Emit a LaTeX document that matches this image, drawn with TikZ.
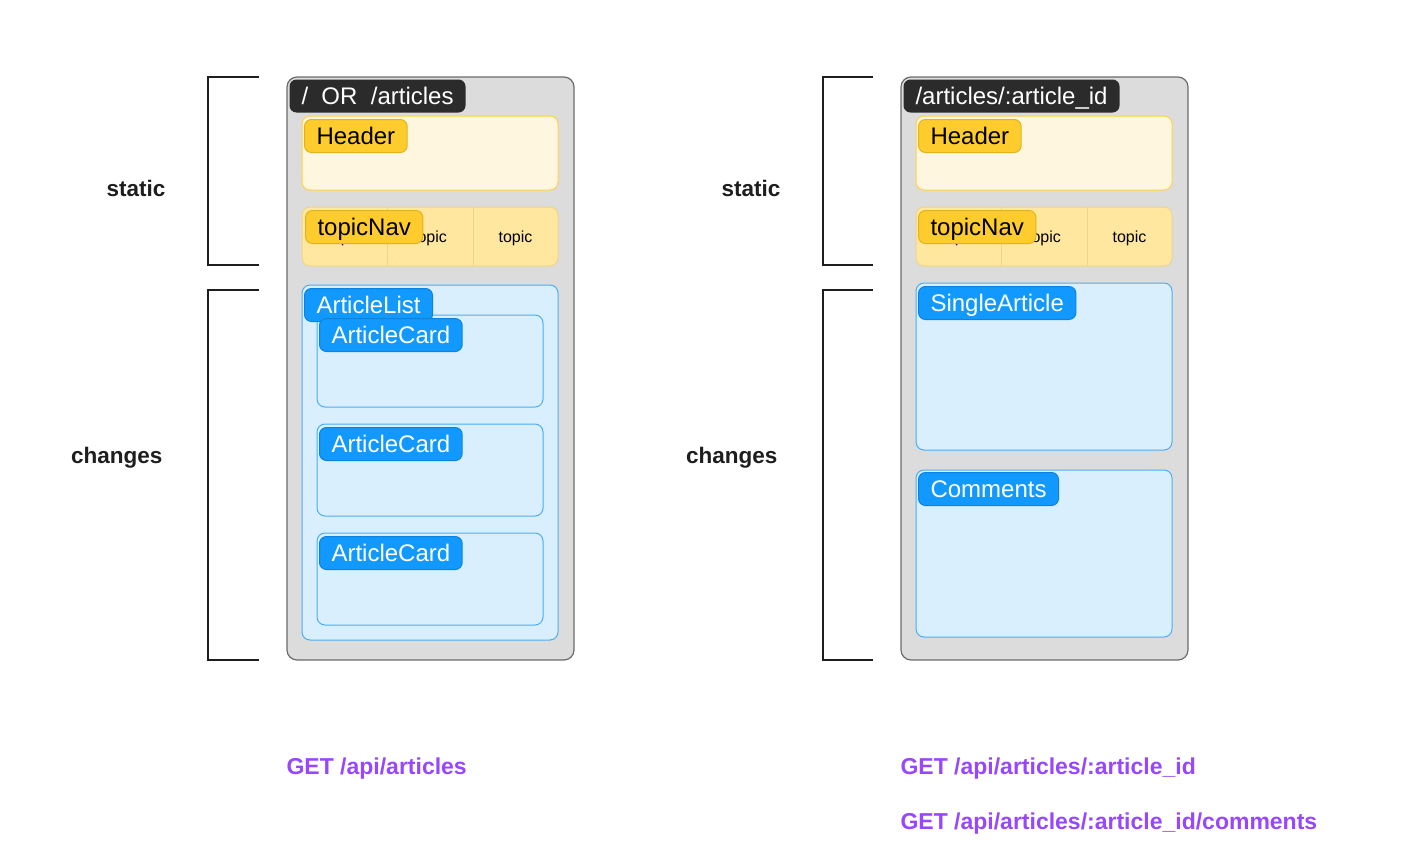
\documentclass[tikz,border=0pt]{standalone}
\usepackage{fontspec}
\setmainfont{Liberation Sans}
\definecolor{pagefill}{HTML}{DCDCDC}
\definecolor{pageline}{HTML}{6B6B6B}
\definecolor{routefill}{HTML}{2B2B2B}
\definecolor{headfill}{HTML}{FFF6DF}
\definecolor{headline}{HTML}{FFD24C}
\definecolor{yeltag}{HTML}{FFCC2E}
\definecolor{yeltagline}{HTML}{E3B21F}
\definecolor{navfill}{HTML}{FFE7A0}
\definecolor{navline}{HTML}{EDD48A}
\definecolor{bluefill}{HTML}{DAEFFD}
\definecolor{blueline}{HTML}{4AAEF5}
\definecolor{bluetag}{HTML}{1199FF}
\definecolor{bluetagline}{HTML}{0B84E0}
\definecolor{apipurple}{HTML}{9747FF}
\definecolor{inkdark}{HTML}{1E1E1E}

\begin{document}
\begin{tikzpicture}[x=1pt, y=-1pt,
    every node/.style={font=\fontsize{24}{28}\selectfont},
    page/.style={draw=pageline, fill=pagefill, line width=1.2pt, rounded corners=10pt},
    headbox/.style={draw=headline, fill=headfill, line width=1pt, rounded corners=8pt},
    navbox/.style={draw=navline, fill=navfill, line width=1pt, rounded corners=8pt},
    bluebox/.style={draw=blueline, fill=bluefill, line width=1pt, rounded corners=8pt},
    tag/.style={anchor=north west, rounded corners=7pt, inner xsep=12pt, inner ysep=0pt,
      minimum height=33pt, text height=17pt, text depth=0pt, line width=1pt},
    routetag/.style={tag, fill=routefill, text=white},
    yellowtag/.style={tag, draw=yeltagline, fill=yeltag, text=black},
    bluetagbox/.style={tag, draw=bluetagline, fill=bluetag, text=white},
    topictext/.style={font=\fontsize{16}{18}\selectfont, text=black},
    sidelabel/.style={font=\bfseries\fontsize{22.5}{26}\selectfont, text=inkdark},
    apilabel/.style={anchor=west, font=\bfseries\fontsize{23}{26}\selectfont, text=apipurple},
    bracket/.style={draw=inkdark, line width=2.4pt}]
  \useasboundingbox (0,0) rectangle (1408,862);

  % left page: / OR /articles
  \draw[page] (287,77) rectangle (574,660);
  \node[routetag] (routeL) at (289,79) {/\ \ OR\ \ /articles};
  % Header
  \draw[headbox] (302,116) rectangle (558,190);
  \node[yellowtag] (headerL) at (304,119) {Header};
  % topicNav with three topics
  \draw[navbox] (302,207) rectangle (558,266);
  \draw[navline, line width=1pt] (387,207) -- (387,266) (473,207) -- (473,266);
  \node[topictext] (topicLa) at (344.5,238) {topic};
  \node[topictext] (topicLb) at (430,238) {topic};
  \node[topictext] (topicLc) at (515.5,238) {topic};
  \node[yellowtag] (navL) at (305,210) {topicNav};
  % ArticleList with its cards
  \draw[bluebox] (302,285) rectangle (558,640);
  \draw[bluebox] (317,315) rectangle (543,407);
  \draw[bluebox] (317,424) rectangle (543,516);
  \draw[bluebox] (317,533) rectangle (543,625);
  \node[bluetagbox] (listL) at (304,288) {ArticleList};
  \node[bluetagbox] (cardA) at (319,318) {ArticleCard};
  \node[bluetagbox] (cardB) at (319,427) {ArticleCard};
  \node[bluetagbox] (cardC) at (319,536) {ArticleCard};

  % left brackets and labels
  \draw[bracket] (259,77) -- (208,77) -- (208,265) -- (259,265);
  \draw[bracket] (259,290) -- (208,290) -- (208,660) -- (259,660);
  \node[sidelabel] (staticL) at (136,188) {static};
  \node[sidelabel, anchor=east] (changesL) at (166,458) {changes};
  \node[apilabel] (apiL) at (283,769) {GET /api/articles};

  % right page: /articles/:article_id
  \draw[page] (901,77) rectangle (1188,660);
  \node[routetag] (routeR) at (903,79) {/articles/:article\_id};
  % Header
  \draw[headbox] (916,116) rectangle (1172,190);
  \node[yellowtag] (headerR) at (918,119) {Header};
  % topicNav with three topics
  \draw[navbox] (916,207) rectangle (1172,266);
  \draw[navline, line width=1pt] (1001,207) -- (1001,266) (1087,207) -- (1087,266);
  \node[topictext] (topicRa) at (958.5,238) {topic};
  \node[topictext] (topicRb) at (1044,238) {topic};
  \node[topictext] (topicRc) at (1129.5,238) {topic};
  \node[yellowtag] (navR) at (918,210) {topicNav};
  % SingleArticle and Comments
  \draw[bluebox] (916,283) rectangle (1172,450);
  \node[bluetagbox] (singleR) at (918,286) {SingleArticle};
  \draw[bluebox] (916,470) rectangle (1172,637);
  \node[bluetagbox] (commentsR) at (918,472) {Comments};

  % right brackets and labels
  \draw[bracket] (873,77) -- (823,77) -- (823,265) -- (873,265);
  \draw[bracket] (873,290) -- (823,290) -- (823,660) -- (873,660);
  \node[sidelabel] (staticR) at (751,188) {static};
  \node[sidelabel, anchor=east] (changesR) at (781,458) {changes};
  \node[apilabel] (apiRa) at (897,769) {GET /api/articles/:article\_id};
  \node[apilabel] (apiRb) at (897,824) {GET /api/articles/:article\_id/comments};
\end{tikzpicture}
\end{document}
